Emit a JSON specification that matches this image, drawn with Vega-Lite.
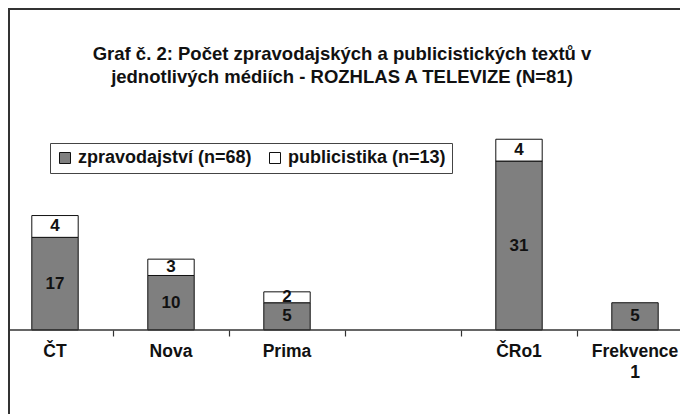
{
  "$schema": "https://vega.github.io/schema/vega-lite/v6.json",
  "autosize": "none",
  "padding": {"left": 9, "top": 9, "right": 0, "bottom": 0},
  "width": 692,
  "height": 412,
  "background": "white",
  "config": {
    "view": {"stroke": "#333333", "strokeWidth": 2},
    "font": "Liberation Sans"
  },
  "title": {
    "text": ["Graf č. 2: Počet zpravodajských a publicistických textů v", "jednotlivých médiích - ROZHLAS A TELEVIZE (N=81)"],
    "anchor": "middle",
    "frame": "group",
    "orient": "top",
    "offset": -77,
    "dx": -13,
    "font": "Liberation Sans",
    "fontSize": 18.5,
    "fontWeight": "bold",
    "color": "#111111",
    "lineHeight": 23
  },
  "datasets": {
    "media": [
      {"media": "ČT", "typ": "zpravodajství (n=68)", "ord": 1, "pocet": 17},
      {"media": "ČT", "typ": "publicistika (n=13)", "ord": 2, "pocet": 4},
      {"media": "Nova", "typ": "zpravodajství (n=68)", "ord": 1, "pocet": 10},
      {"media": "Nova", "typ": "publicistika (n=13)", "ord": 2, "pocet": 3},
      {"media": "Prima", "typ": "zpravodajství (n=68)", "ord": 1, "pocet": 5},
      {"media": "Prima", "typ": "publicistika (n=13)", "ord": 2, "pocet": 2},
      {"media": "ČRo1", "typ": "zpravodajství (n=68)", "ord": 1, "pocet": 31},
      {"media": "ČRo1", "typ": "publicistika (n=13)", "ord": 2, "pocet": 4},
      {"media": "Frekvence 1", "typ": "zpravodajství (n=68)", "ord": 1, "pocet": 5}
    ],
    "baseline": [{"hodnota": 0}]
  },
  "layer": [
    {
      "data": {"name": "media"},
      "mark": {"type": "bar", "width": {"band": 0.4}, "stroke": "#111111", "strokeWidth": 1},
      "encoding": {
        "x": {
          "field": "media",
          "type": "nominal",
          "sort": null,
          "scale": {
            "domain": ["ČT", "Nova", "Prima", " ", "ČRo1", "Frekvence 1"],
            "range": [-12, 684],
            "paddingInner": 0,
            "paddingOuter": 0
          },
          "axis": {
            "title": null,
            "orient": "bottom",
            "offset": -91,
            "domain": false,
            "bandPosition": 0,
            "ticks": true,
            "tickSize": 6,
            "tickColor": "#333333",
            "tickWidth": 1.2,
            "labelAngle": 0,
            "labelFont": "Liberation Sans",
            "labelFontSize": 17.5,
            "labelFontWeight": "bold",
            "labelColor": "#111111",
            "labelPadding": 6,
            "labelOverlap": false,
            "labelBound": false,
            "labelFlush": false,
            "labelLineHeight": 21,
            "labelExpr": "datum.label == 'Frekvence 1' ? ['Frekvence', '1'] : datum.label"
          }
        },
        "y": {
          "field": "pocet",
          "type": "quantitative",
          "stack": "zero",
          "scale": {"domain": [-16.7, 58.9], "nice": false, "zero": false},
          "axis": null
        },
        "order": {"field": "ord", "type": "quantitative"},
        "color": {
          "field": "typ",
          "type": "nominal",
          "scale": {
            "domain": ["zpravodajství (n=68)", "publicistika (n=13)"],
            "range": ["#7f7f7f", "#ffffff"]
          },
          "legend": {
            "title": null,
            "orient": "none",
            "legendX": 41,
            "legendY": 134,
            "direction": "horizontal",
            "strokeColor": "#444444",
            "fillColor": "#ffffff",
            "padding": 6,
            "symbolType": "square",
            "symbolSize": 121,
            "symbolStrokeColor": "#111111",
            "symbolStrokeWidth": 1,
            "labelFont": "Liberation Sans",
            "labelFontSize": 18,
            "labelFontWeight": "bold",
            "labelColor": "#111111",
            "labelOffset": 4,
            "columnPadding": 14,
            "labelLimit": 300
          }
        }
      }
    },
    {
      "data": {"name": "media"},
      "mark": {"type": "text", "font": "Liberation Sans", "fontSize": 17, "fontWeight": "bold", "color": "#111111", "baseline": "middle"},
      "encoding": {
        "x": {"field": "media", "type": "nominal", "sort": null},
        "y": {"field": "pocet", "type": "quantitative", "stack": "zero", "bandPosition": 0.5},
        "order": {"field": "ord", "type": "quantitative"},
        "text": {"field": "pocet", "type": "quantitative"}
      }
    },
    {
      "data": {"name": "baseline"},
      "mark": {"type": "rule", "color": "#333333", "strokeWidth": 1.5},
      "encoding": {"y": {"field": "hodnota", "type": "quantitative"}}
    }
  ]
}
